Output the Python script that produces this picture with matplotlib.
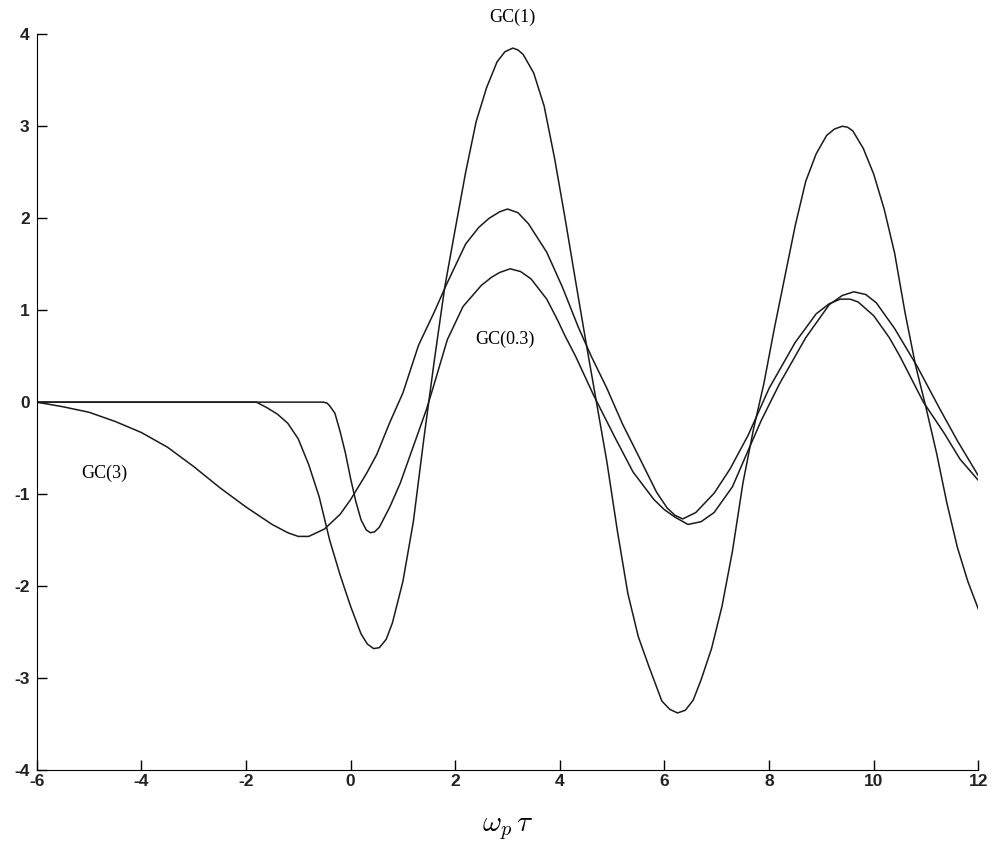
import matplotlib
matplotlib.use("Agg")
import matplotlib.pyplot as plt

# values
gc1_x = [-6.0, -2.0, -1.8, -1.6, -1.4, -1.2, -1.0, -0.8, -0.6, -0.4, -0.2, 0.0, 0.2, 0.32, 0.44,
         0.55, 0.68, 0.8, 1.0, 1.2, 1.4, 1.6, 1.8, 2.0, 2.2, 2.4, 2.6, 2.8, 2.95, 3.1, 3.2, 3.3, 3.5, 3.7,
         3.9, 4.1, 4.3, 4.5, 4.7, 4.9, 5.1, 5.3, 5.5, 5.7, 5.95, 6.1, 6.25, 6.4, 6.55, 6.7, 6.9,
         7.1, 7.3, 7.5, 7.7, 7.9, 8.1, 8.3, 8.5, 8.7, 8.9, 9.1, 9.25, 9.4, 9.5, 9.6, 9.8, 10.0,
         10.2, 10.4, 10.6, 10.8, 11.0, 11.2, 11.4, 11.6, 11.8, 12.0]
gc1_y = [0.0, 0.0, 0.0, -0.06, -0.13, -0.23, -0.40, -0.68, -1.03, -1.50, -1.88, -2.22, -2.52, -2.63, -2.68,
         -2.67, -2.58, -2.40, -1.95, -1.30, -0.40, 0.45, 1.25, 1.88, 2.50, 3.05, 3.42, 3.70, 3.81, 3.85, 3.83, 3.78, 3.58, 3.22,
         2.65, 2.00, 1.32, 0.65, 0.0, -0.65, -1.40, -2.08, -2.55, -2.87, -3.25, -3.34, -3.38, -3.35, -3.24, -3.02, -2.68,
         -2.22, -1.62, -0.88, -0.30, 0.20, 0.80, 1.36, 1.92, 2.40, 2.70, 2.90, 2.97, 3.0, 2.99, 2.95, 2.76, 2.48,
         2.10, 1.62, 0.97, 0.40, -0.06, -0.55, -1.10, -1.58, -1.95, -2.25]

gc3_x = [-6.0, -5.5, -5.0, -4.5, -4.0, -3.5, -3.0, -2.5, -2.0, -1.5, -1.2, -1.0, -0.8, -0.5, -0.2,
         0.0, 0.3, 0.5, 0.75, 1.0, 1.3, 1.6, 1.85, 2.2, 2.45, 2.65, 2.85, 3.0, 3.2, 3.4, 3.75, 4.05, 4.35,
         4.6, 4.9, 5.2, 5.5, 5.85, 6.05, 6.2, 6.35, 6.6, 6.95, 7.25, 7.6, 8.0, 8.5, 8.9, 9.15, 9.36,
         9.55, 9.7, 10.0, 10.3, 10.5, 10.95, 11.35, 11.65, 12.0]
gc3_y = [0.0, -0.05, -0.11, -0.21, -0.33, -0.49, -0.70, -0.93, -1.14, -1.33, -1.42, -1.46, -1.46, -1.38, -1.22,
         -1.06, -0.78, -0.57, -0.22, 0.10, 0.62, 0.98, 1.30, 1.72, 1.90, 2.0, 2.07, 2.10, 2.06, 1.94, 1.63, 1.25, 0.82,
         0.50, 0.15, -0.24, -0.58, -0.98, -1.15, -1.23, -1.27, -1.20, -0.99, -0.73, -0.36, 0.15, 0.65, 0.96, 1.07, 1.12,
         1.12, 1.09, 0.94, 0.70, 0.50, 0.0, -0.34, -0.62, -0.85]

gc03_x = [-6.0, -0.52, -0.45, -0.4, -0.3, -0.2, -0.1, 0.0, 0.1, 0.2, 0.3, 0.38, 0.46, 0.55, 0.75, 0.95, 1.2,
          1.45, 1.6, 1.85, 2.15, 2.5, 2.7, 2.85, 3.05, 3.25, 3.45, 3.75, 3.95, 4.1, 4.3, 4.65, 5.05,
          5.4, 5.8, 6.0, 6.2, 6.45, 6.7, 6.95, 7.3, 7.65, 7.85, 8.2, 8.7, 9.15, 9.4, 9.62, 9.85, 10.05,
          10.4, 10.83, 11.27, 11.6, 12.0]
gc03_y = [0.0, 0.0, -0.01, -0.04, -0.12, -0.32, -0.55, -0.83, -1.08, -1.28, -1.39, -1.42, -1.41, -1.36, -1.14, -0.88, -0.48,
          -0.08, 0.20, 0.68, 1.04, 1.27, 1.36, 1.41, 1.45, 1.42, 1.34, 1.12, 0.90, 0.72, 0.50, 0.07, -0.38,
          -0.76, -1.06, -1.17, -1.25, -1.33, -1.30, -1.20, -0.92, -0.46, -0.20, 0.20, 0.70, 1.06, 1.16, 1.20, 1.17, 1.08,
          0.80, 0.39, -0.08, -0.42, -0.80]

x_ticks = [-6, -4, -2, 0, 2, 4, 6, 8, 10, 12]
y_ticks = [-4, -3, -2, -1, 0, 1, 2, 3, 4]

plt.rcParams['mathtext.fontset'] = 'cm'
plt.rcParams['axes.unicode_minus'] = False

fig = plt.figure(figsize=(10.03, 8.51), dpi=100)
ax = fig.add_axes([0.0366, 0.0952, 0.9388, 0.8645])

line_color = '#1a1a1a'
ax.plot(gc1_x, gc1_y, color=line_color, lw=1.1)
ax.plot(gc3_x, gc3_y, color=line_color, lw=1.1)
ax.plot(gc03_x, gc03_y, color=line_color, lw=1.1)

ax.set_xlim(-6, 12)
ax.set_ylim(-4, 4)
ax.set_xticks(x_ticks)
ax.set_yticks(y_ticks)
ax.spines['top'].set_visible(False)
ax.spines['right'].set_visible(False)
ax.tick_params(direction='in', length=7, width=1, labelsize=12.5)
ax.tick_params(axis='x', pad=3)
ax.tick_params(axis='y', pad=5)
for lab in ax.get_xticklabels() + ax.get_yticklabels():
    lab.set_family('Liberation Sans')
    lab.set_fontweight('bold')
    lab.set_color('#222222')

serif = 'Liberation Serif'
ax.text(3.1, 4.18, 'GC(1)', family=serif, fontsize=13, ha='center', va='center', clip_on=False)
ax.text(2.38, 0.68, 'GC(0.3)', family=serif, fontsize=13, ha='left', va='center')
ax.text(-5.14, -0.77, 'GC(3)', family=serif, fontsize=13, ha='left', va='center')

ax.set_xlabel(r'$\omega_p\,\tau$', fontsize=21, labelpad=18)

fig.savefig('out.png', dpi=100)
